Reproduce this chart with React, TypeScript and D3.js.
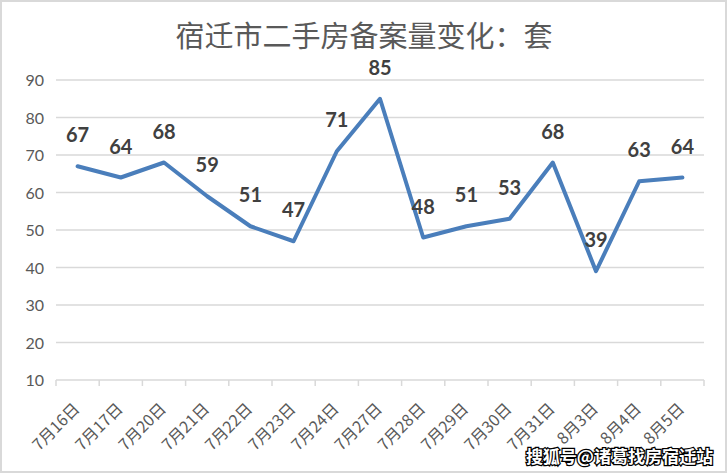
import React from "react";
import * as d3 from "d3";

const categories = ["7月16日","7月17日","7月20日","7月21日","7月22日","7月23日","7月24日","7月27日","7月28日","7月29日","7月30日","7月31日","8月3日","8月4日","8月5日"];
const values = [67,64,68,59,51,47,71,85,48,51,53,68,39,63,64];
const yTicks = [10,20,30,40,50,60,70,80,90];
const title = "宿迁市二手房备案量变化：套";
const watermark = "搜狐号@诸葛找房宿迁站";

export default function App() {
  const W = 728, H = 474;
  const left = 56, right = 704, top = 80, bottom = 380;
  const x = d3.scaleBand<string>().domain(categories).range([left, right]);
  const y = d3.scaleLinear().domain([10, 90]).range([bottom, top]);
  const pts: [number, number][] = values.map((v, i) => [x(categories[i])! + x.bandwidth() / 2, y(v)]);
  const line = d3.line().curve(d3.curveLinear)(pts) || "";
  const tickXs = categories.map(c => x(c)!).concat([right]);
  const cjk = "'Noto Sans CJK SC', sans-serif";
  const num = "Lato, 'Open Sans', sans-serif";
  return (
    <svg width={W} height={H} style={{ position: "absolute", left: 0, top: 0 }}>
      <rect x={0} y={0} width={W} height={H} fill="#fff" />
      <rect x={1} y={1} width={W - 3} height={H - 3} fill="none" stroke="#d9d9d9" strokeWidth={2} />
      <text x={364} y={47} textAnchor="middle" fontFamily={cjk} fontSize={29} fill="#595959">{title}</text>
      {yTicks.map(t => (
        <g key={t}>
          {t !== 10 && <line x1={left} x2={right} y1={y(t)} y2={y(t)} stroke="#d9d9d9" strokeWidth={1.5} />}
          <text x={44} y={y(t) + 6} textAnchor="end" fontFamily={num} fontSize={16} fill="#595959">{t}</text>
        </g>
      ))}
      <line x1={left} x2={right} y1={bottom} y2={bottom} stroke="#d9d9d9" strokeWidth={1.5} />
      {tickXs.map((tx, i) => (
        <line key={i} x1={tx} x2={tx} y1={bottom} y2={bottom + 6} stroke="#d9d9d9" strokeWidth={1.5} />
      ))}
      {categories.map(c => {
        const cx = x(c)! + x.bandwidth() / 2 + 3;
        const cy = 410;
        return (
          <text key={c} x={cx} y={cy} transform={`rotate(-45 ${cx} ${cy})`} textAnchor="end" fontFamily={cjk} fontSize={16} fill="#595959">{c}</text>
        );
      })}
      <path d={line} fill="none" stroke="#4a7ebb" strokeWidth={4} strokeLinejoin="round" strokeLinecap="round" />
      {values.map((v, i) => (
        <text key={i} x={pts[i][0]} y={pts[i][1] - 24} textAnchor="middle" fontFamily={num} fontWeight="bold" fontSize={20} fill="#404040">{v}</text>
      ))}
      <text x={713} y={463} textAnchor="end" fontFamily={cjk} fontWeight="bold" fontSize={17} fill="#fff" stroke="#000" strokeWidth={2.5} paintOrder="stroke">{watermark}</text>
    </svg>
  );
}
